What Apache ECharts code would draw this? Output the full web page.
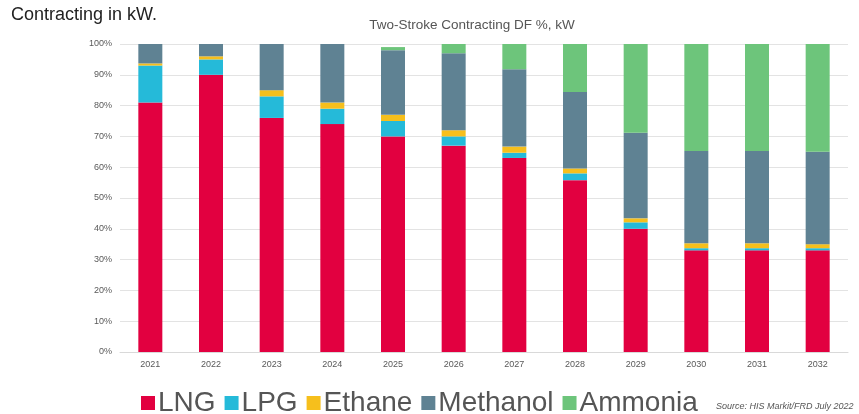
<!DOCTYPE html>
<html>
<head>
<meta charset="utf-8">
<script src="https://cdn.jsdelivr.net/npm/echarts@6/dist/echarts.min.js"></script>
<style>
  html, body { margin: 0; padding: 0; background: #fff; }
  #chart { width: 859px; height: 414px; }
</style>
</head>
<body>
<div id="chart"></div>
<script>
const years = ["2021", "2022", "2023", "2024", "2025", "2026", "2027", "2028", "2029", "2030", "2031", "2032"];
const lng      = [81, 90, 76, 74, 70, 67, 63, 55.8, 40, 33, 33, 33];
const lpg      = [12, 5, 7, 5, 5, 3, 1.7, 2.2, 2.1, 0.7, 0.7, 0.7];
const ethane   = [0.7, 1, 2, 2, 2, 2, 2, 1.6, 1.3, 1.6, 1.6, 1.3];
const methanol = [6.3, 4, 15, 19, 21, 25, 25.1, 24.8, 27.8, 30, 30, 30];
const ammonia  = [0, 0, 0, 0, 1, 3, 8.2, 15.6, 28.8, 34.7, 34.7, 35];
const yTicks = [0, 10, 20, 30, 40, 50, 60, 70, 80, 90, 100];

const chart = echarts.init(document.getElementById("chart"));

const mk = (name, data, color) => ({
  name,
  type: "bar",
  stack: "total",
  barWidth: 24,
  data,
  itemStyle: { color },
});

chart.setOption({
  animation: false,
  backgroundColor: "#fff",
  textStyle: { fontFamily: "Liberation Sans, Arial, sans-serif" },
  title: [
    {
      text: "Contracting in kW.",
      left: 11,
      top: 6,
      padding: 0,
      textStyle: { fontSize: 18, fontWeight: "normal", color: "#222" },
    },
    {
      text: "Two-Stroke Contracting DF %, kW",
      left: 472,
      top: 18,
      padding: 0,
      textAlign: "center",
      textStyle: { fontSize: 13.5, fontWeight: "normal", color: "#555" },
    },
    {
      text: "Source: HIS Markit/FRD July 2022",
      left: 716,
      top: 402,
      padding: 0,
      textStyle: { fontSize: 9, fontStyle: "italic", fontWeight: "normal", color: "#555" },
    },
  ],
  legend: {
    left: 136,
    top: 384,
    itemWidth: 14,
    itemHeight: 14,
    itemGap: 9,
    icon: "rect",
    textStyle: { fontSize: 28, color: "#555", padding: [0, 0, 0, -2] },
    data: ["LNG", "LPG", "Ethane", "Methanol", "Ammonia"],
  },
  grid: { left: 120, right: 11, top: 44, bottom: 62 },
  xAxis: {
    type: "category",
    data: years,
    axisLine: { lineStyle: { color: "#d9d9d9" } },
    axisTick: { show: false },
    axisLabel: { color: "#595959", fontSize: 9, margin: 8 },
  },
  yAxis: {
    type: "value",
    min: 0,
    max: 100,
    interval: 10,
    axisLine: { show: false },
    axisTick: { show: false },
    axisLabel: {
      color: "#595959",
      fontSize: 9,
      margin: 8,
      formatter: (v) => (yTicks.includes(v) ? v + "%" : ""),
    },
    splitLine: { lineStyle: { color: "#e3e3e3" } },
  },
  series: [
    mk("LNG", lng, "#E20040"),
    mk("LPG", lpg, "#25BAD9"),
    mk("Ethane", ethane, "#F6BF1C"),
    mk("Methanol", methanol, "#5F8293"),
    mk("Ammonia", ammonia, "#6DC57B"),
  ],
});
</script>
</body>
</html>
